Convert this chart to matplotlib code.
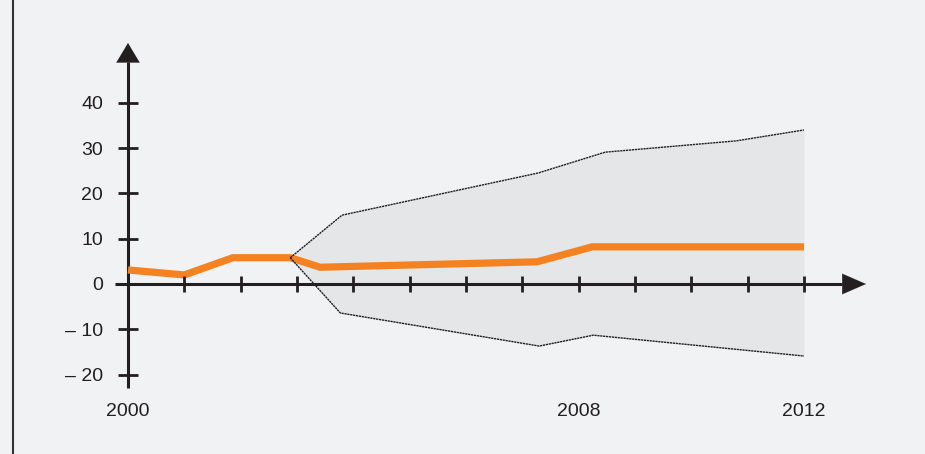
import matplotlib
matplotlib.use("Agg")
import matplotlib.pyplot as plt
from matplotlib.lines import Line2D
import numpy as np

# ---- data ----
years_line = [0.0, 1.0, 1.86, 2.88, 3.41, 7.26, 8.24, 12.0]
values_line = [3.1, 2.0, 5.8, 5.8, 3.7, 4.9, 8.2, 8.2]

band_upper_x = [2.88, 3.8, 7.28, 8.47, 10.8, 12.0]
band_upper_y = [5.8, 15.2, 24.5, 29.1, 31.6, 34.0]
band_lower_x = [2.88, 3.77, 7.3, 8.26, 12.0]
band_lower_y = [5.8, -6.4, -13.7, -11.3, -15.9]

x_ticks = list(range(0, 13))
x_label_pos = [0, 8, 12]
x_label_txt = ["2000", "2008", "2012"]
y_ticks = [40, 30, 20, 10, 0, -10, -20]
y_tick_txt = ["40", "30", "20", "10", "0", "\u2013 10", "\u2013 20"]

# ---- style ----
BG = "#f1f2f4"
BAND = "#e5e6e8"
ORANGE = "#f58220"
DARK = "#231f20"
FONT = ["Liberation Sans Narrow", "Liberation Sans", "DejaVu Sans"]

W, H = 925, 454
fig = plt.figure(figsize=(W / 100, H / 100), dpi=100, facecolor=BG)
ax = fig.add_axes([0, 0, 1, 1])
ax.set_facecolor(BG)
ax.axis("off")

# pixel mapping: x0=128 px, 56.33 px/year ; y0=284 px, 4.53 px/unit
px_per_year = 56.33
px_per_unit = 4.53
ax.set_xlim(-128 / px_per_year, (W - 128) / px_per_year)
ax.set_ylim(-(H - 284) / px_per_unit, 284 / px_per_unit)

# band fill
xs = np.union1d(band_upper_x, band_lower_x)
up = np.interp(xs, band_upper_x, band_upper_y)
lo = np.interp(xs, band_lower_x, band_lower_y)
ax.fill_between(xs, lo, up, color=BAND, lw=0, zorder=1)

# orange line
ax.plot(years_line, values_line, color=ORANGE, lw=5.2, solid_joinstyle="miter",
        solid_capstyle="butt", zorder=3)

# band edges
ax.plot(band_upper_x, band_upper_y, color=DARK, lw=1.0, ls=(0, (1.6, 0.5)), zorder=4)
ax.plot(band_lower_x, band_lower_y, color=DARK, lw=1.0, ls=(0, (1.6, 0.5)), zorder=4)

# axes lines
ax.plot([-13 / px_per_year, (842 - 128) / px_per_year], [0, 0], color=DARK, lw=2.2,
        solid_capstyle="butt", zorder=2)
ax.plot([0, 0], [-(388 - 284) / px_per_unit, (284 - 62) / px_per_unit], color=DARK, lw=2.2,
        solid_capstyle="butt", zorder=2)
# arrow heads
ax.annotate("", xy=((866 - 128) / px_per_year, 0), xytext=((840 - 128) / px_per_year, 0),
            arrowprops=dict(arrowstyle="-|>,head_length=0.85,head_width=0.37",
                            mutation_scale=20, color=DARK, lw=0.1,
                            shrinkA=0, shrinkB=0), zorder=5)
ax.annotate("", xy=(0, (284 - 43) / px_per_unit), xytext=(0, (284 - 64) / px_per_unit),
            arrowprops=dict(arrowstyle="-|>,head_length=0.7,head_width=0.42",
                            mutation_scale=20, color=DARK, lw=0.1,
                            shrinkA=0, shrinkB=0), zorder=5)

# x ticks
tx = 8 / px_per_unit
for t in x_ticks[1:]:
    ax.plot([t, t], [-tx * 1.05, tx], color=DARK, lw=2.0, solid_capstyle="butt", zorder=5)
# y ticks
ty = 10 / px_per_year
for t in y_ticks:
    if t != 0:
        ax.plot([-ty, ty], [t, t], color=DARK, lw=2.0, solid_capstyle="butt", zorder=5)

# y tick labels
for t, s in zip(y_ticks, y_tick_txt):
    ax.text(-25 / px_per_year, t, s, ha="right", va="center_baseline", fontsize=14,
            family=FONT, color=DARK)
# x labels
for t, s in zip(x_label_pos, x_label_txt):
    ax.text(t, -(410 - 284) / px_per_unit, s, ha="center", va="center_baseline", fontsize=14,
            family=FONT, color=DARK)

# left border
fig.add_artist(Line2D([12.5 / W, 12.5 / W], [0, 1], color="#333333", lw=1.5,
                      transform=fig.transFigure))

fig.savefig("out.png", dpi=100, facecolor=BG)
